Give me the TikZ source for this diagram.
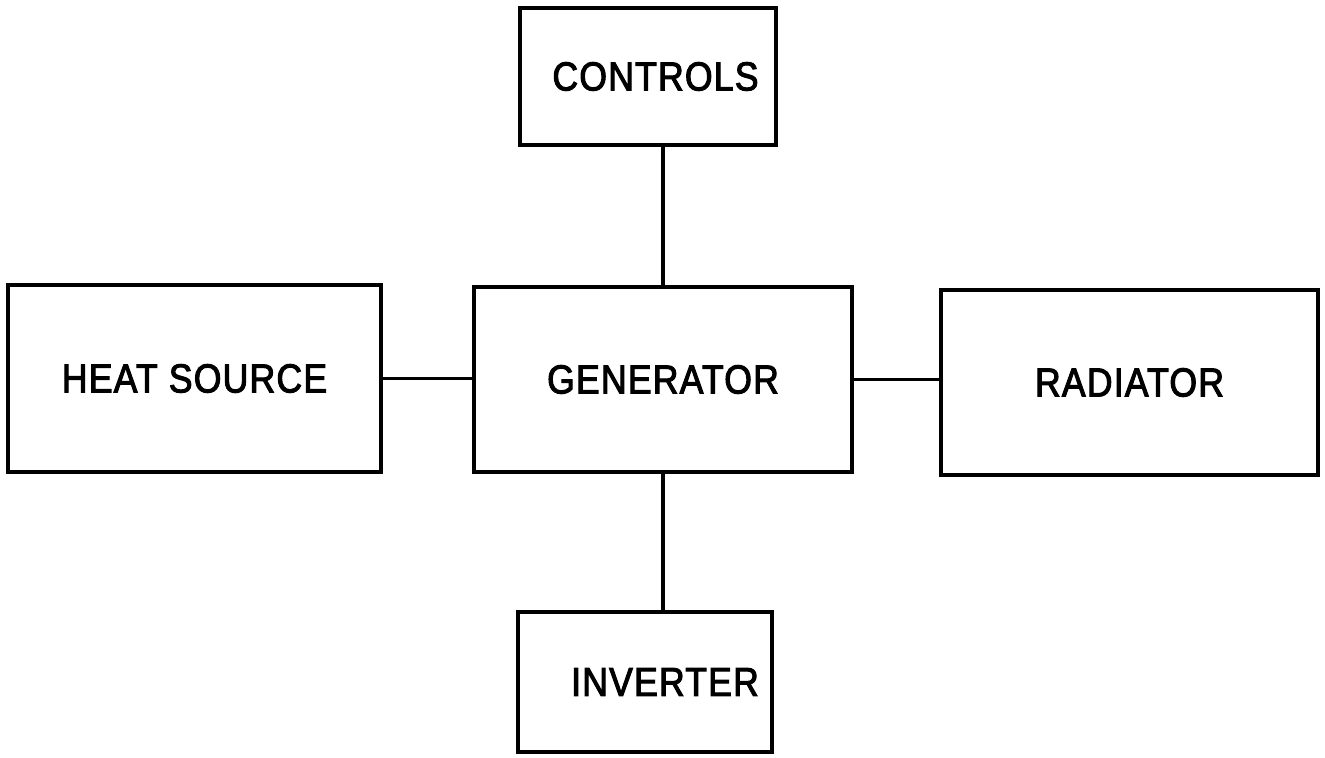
\documentclass[tikz,border=0pt]{standalone}
\usepackage{fontspec}
\setmainfont{Liberation Sans}
\newfontfamily\lettering[FakeStretch=0.88, FakeBold=2.5, LetterSpace=3]{Liberation Sans}
\usetikzlibrary{positioning}

\begin{document}
\begin{tikzpicture}[
  blk/.style={draw, line width=2pt, inner sep=0pt, font=\lettering\fontsize{23}{26}\selectfont},
  link/.style={line width=2pt}
]
  \useasboundingbox (0,0) rectangle (26.5,15.14);

  \node[blk, minimum width=5.12cm, minimum height=2.74cm] (ctrl) at (12.96,13.61) {\hspace*{0.3cm}CONTROLS};
  \node[blk, minimum width=7.46cm, minimum height=3.74cm] (heat) at (3.89,7.57)   {HEAT SOURCE};
  \node[blk, minimum width=7.56cm, minimum height=3.70cm] (gen)  at (13.26,7.55)  {GENERATOR};
  \node[blk, minimum width=7.54cm, minimum height=3.70cm] (rad)  at (22.59,7.49)  {RADIATOR};
  \node[blk, minimum width=5.08cm, minimum height=2.80cm] (inv)  at (12.90,1.50)  {\hspace*{0.8cm}INVERTER};

  \draw[link] (ctrl.south -| gen.north) -- (gen.north);
  \draw[link] (heat.east) -- (heat.east -| gen.west);
  \draw[link] (gen.east) -- (gen.east -| rad.west);
  \draw[link] (gen.south) -- (gen.south |- inv.north);
\end{tikzpicture}
\end{document}
